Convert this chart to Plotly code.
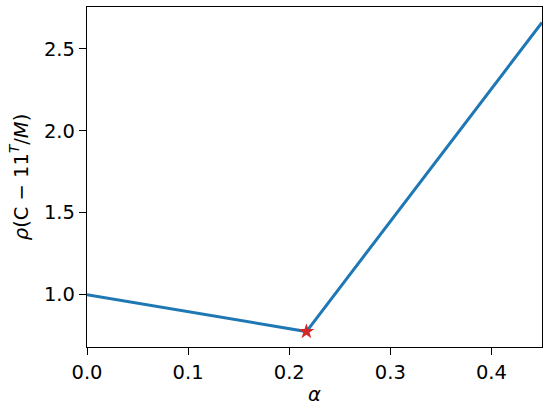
import plotly.graph_objects as go

# data
alpha = [0.0, 0.217, 0.45]
rho = [1.0, 0.775, 2.66]
opt_alpha = [0.217]
opt_rho = [0.775]
x_ticks = [0.0, 0.1, 0.2, 0.3, 0.4]
y_ticks = [1.0, 1.5, 2.0, 2.5]

ymin, ymax = min(rho), max(rho)
pad = 0.05 * (ymax - ymin)

fig = go.Figure()
fig.add_trace(go.Scatter(x=alpha, y=rho, mode="lines",
                         line=dict(color="#1f77b4", width=3), showlegend=False,
                         cliponaxis=True))
fig.add_trace(go.Scatter(x=opt_alpha, y=opt_rho, mode="markers",
                         marker=dict(symbol="star", color="#d62728", size=12,
                                     line=dict(width=0)), showlegend=False,
                         cliponaxis=False))

font = dict(family="DejaVu Sans", size=19.5, color="black")
axis_common = dict(showline=True, linecolor="black", linewidth=1.3, mirror=True,
                   ticks="outside", ticklen=7, tickwidth=1.3, tickcolor="black",
                   showgrid=False, zeroline=False, tickfont=font, tickformat=".1f",
                   automargin=False)

fig.update_layout(
    width=550, height=414,
    margin=dict(l=87, r=8, t=7, b=67, pad=0),
    plot_bgcolor="white", paper_bgcolor="white",
    font=font,
    xaxis=dict(range=[0, 0.45], tickvals=x_ticks,
               title=dict(text="<i>α</i>", font=font, standoff=4), **axis_common),
    yaxis=dict(range=[ymin - pad, ymax + pad], tickvals=y_ticks,
               title=dict(text="<i>ρ</i>(C − 11<sup><i>T</i></sup>/<i>M</i>)", font=font, standoff=10),
               **axis_common),
)

fig.write_html("out.html", config={"displayModeBar": False},
               post_script="document.body.style.margin='0';document.body.style.overflow='hidden';")
